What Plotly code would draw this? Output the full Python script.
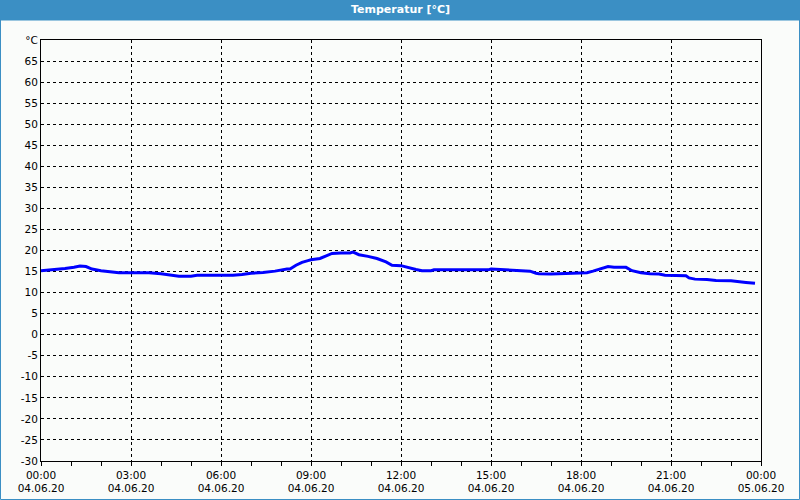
import plotly.graph_objects as go

hours = [0.0, 0.4, 0.8, 1.1, 1.3, 1.5, 1.7, 2.0, 2.3, 2.6, 3.0, 3.6, 4.0, 4.3, 4.6, 5.0, 5.2,
         6.0, 6.4, 6.7, 7.0, 7.4, 7.8, 8.2, 8.3, 8.5, 8.7, 8.9, 9.0, 9.3, 9.5, 9.7, 10.0,
         10.3, 10.4, 10.6, 10.9, 11.2, 11.5, 11.7, 12.0, 12.2, 12.5, 12.7, 13.0, 13.1, 14.0,
         14.9, 15.0, 15.2, 15.6, 16.0, 16.3, 16.5, 16.6, 17.0, 17.5, 17.7, 18.2, 18.4, 18.6,
         18.8, 18.9, 19.1, 19.5, 19.7, 20.0, 20.3, 20.6, 20.8, 21.5, 21.6, 21.8, 22.2, 22.5,
         23.0, 23.2, 23.5, 23.8]
temps = [15.2, 15.4, 15.7, 16.0, 16.3, 16.2, 15.6, 15.2, 14.9, 14.7, 14.7, 14.7, 14.5, 14.2,
         13.9, 13.9, 14.1, 14.1, 14.1, 14.3, 14.6, 14.8, 15.1, 15.6, 15.6, 16.5, 17.2, 17.6,
         17.8, 18.1, 18.7, 19.3, 19.4, 19.4, 19.6, 19.0, 18.6, 18.1, 17.3, 16.5, 16.4, 16.0,
         15.5, 15.2, 15.2, 15.4, 15.4, 15.4, 15.6, 15.5, 15.3, 15.1, 15.1, 14.6, 14.5, 14.4,
         14.5, 14.7, 14.7, 15.1, 15.6, 16.0, 16.2, 16.0, 16.0, 15.2, 14.7, 14.5, 14.4, 14.1,
         14.0, 13.5, 13.2, 13.1, 12.9, 12.8, 12.6, 12.4, 12.2]

y_ticks = list(range(-30, 70, 5)) + [70]
y_text = [str(v) for v in range(-30, 70, 5)] + ["°C"]

def ts(h):
    m = int(round(h * 60))
    return "2020-06-04 %02d:%02d" % (m // 60, m % 60)

times = [ts(h) for h in hours]

W, H = 800, 500
L, R, T, B = 41, 39, 40, 39
pw, ph = W - L - R, H - T - B

fig = go.Figure()
fig.add_trace(go.Scatter(x=times, y=temps, mode="lines",
                         line=dict(color="#0000ff", width=3), hoverinfo="skip"))

font = dict(family="DejaVu Sans", size=10.5, color="#000000")
fig.update_layout(
    width=W, height=H,
    margin=dict(l=L, r=R, t=T, b=B, autoexpand=False),
    paper_bgcolor="#fafcfa", plot_bgcolor="#fafcfa",
    showlegend=False,
    font=font,
    xaxis=dict(
        range=["2020-06-04 00:00", "2020-06-05 00:00"],
        tickmode="linear", tick0="2020-06-04 00:00", dtick=3 * 3600000,
        tickformat="%H:%M<br>%d.%m.%y",
        showgrid=True, gridcolor="#000000", griddash="3px,3px", gridwidth=1,
        showline=True, linecolor="#000000", linewidth=1, mirror=True,
        ticks="outside", ticklen=4, tickcolor="#000000",
        minor=dict(dtick=3600000, ticks="outside", ticklen=4, tickcolor="#000000", showgrid=False),
        zeroline=False, tickfont=font, automargin=False,
    ),
    yaxis=dict(
        range=[-30, 70],
        tickmode="array", tickvals=y_ticks, ticktext=y_text,
        showgrid=True, gridcolor="#000000", griddash="3px,3px", gridwidth=1,
        showline=True, linecolor="#000000", linewidth=1, mirror=True,
        ticks="", zeroline=False, tickfont=font, automargin=False,
    ),
    shapes=[
        dict(type="rect", xref="paper", yref="paper",
             x0=-L / pw, x1=1 + R / pw, y0=1 + (T - 20) / ph, y1=1 + T / ph,
             fillcolor="#3b8fc4", line=dict(width=0), layer="above"),
        dict(type="rect", xref="paper", yref="paper",
             x0=-(L - 0.5) / pw, x1=1 + (R - 0.5) / pw, y0=-(B - 0.5) / ph, y1=1 + (T - 20) / ph,
             fillcolor="rgba(0,0,0,0)", line=dict(width=1, color="#3b8fc4"), layer="above"),
    ],
    annotations=[
        dict(text="<b>Temperatur [°C]</b>", xref="paper", yref="paper",
             x=(400 - L) / pw, y=1 + (T - 10) / ph, showarrow=False,
             xanchor="center", yanchor="middle",
             font=dict(family="DejaVu Sans", size=11, color="#ffffff")),
    ],
)

fig.write_html("out.html")
